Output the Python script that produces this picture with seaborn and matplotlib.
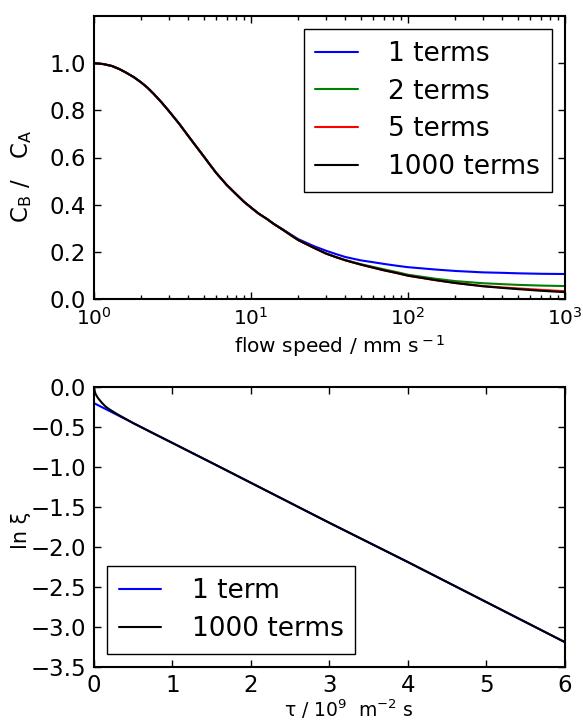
import numpy as np
import pandas as pd
import matplotlib
matplotlib.use('Agg')
import matplotlib.pyplot as plt
import seaborn as sns

# values
speed = [1, 1.15, 1.3, 1.45, 1.6, 1.8, 2, 2.2, 2.4, 2.7, 3, 3.5, 4, 4.5, 5,
         5.5, 6, 7, 8, 9, 10, 11.2, 12.6, 14, 16, 18, 20, 25, 30, 35, 40,
         50, 60, 70, 85, 100, 150, 200, 300, 400, 500, 700, 1000]
ratio_1000 = [1.0, 0.996, 0.988, 0.975, 0.960, 0.940, 0.918, 0.895, 0.870,
              0.833, 0.797, 0.742, 0.690, 0.645, 0.605, 0.568, 0.535, 0.484,
              0.446, 0.413, 0.388, 0.362, 0.340, 0.318, 0.293, 0.270, 0.250,
              0.218, 0.193, 0.177, 0.164, 0.146, 0.133, 0.122, 0.110, 0.099,
              0.080, 0.068, 0.054, 0.047, 0.042, 0.035, 0.029]
ratio_5 = [1.0, 0.996, 0.988, 0.975, 0.960, 0.940, 0.918, 0.895, 0.870,
           0.833, 0.797, 0.742, 0.690, 0.645, 0.605, 0.568, 0.535, 0.484,
           0.446, 0.413, 0.388, 0.362, 0.340, 0.318, 0.293, 0.270, 0.250,
           0.218, 0.193, 0.177, 0.164, 0.146, 0.133, 0.122, 0.110, 0.099,
           0.080, 0.068, 0.055, 0.049, 0.045, 0.039, 0.033]
ratio_2 = [1.0, 0.996, 0.988, 0.975, 0.960, 0.940, 0.918, 0.895, 0.870,
           0.833, 0.797, 0.742, 0.690, 0.645, 0.605, 0.568, 0.535, 0.484,
           0.446, 0.413, 0.388, 0.362, 0.340, 0.318, 0.293, 0.270, 0.250,
           0.218, 0.193, 0.177, 0.165, 0.148, 0.136, 0.126, 0.114, 0.103,
           0.086, 0.076, 0.067, 0.063, 0.060, 0.057, 0.055]
ratio_1 = [1.0, 0.996, 0.988, 0.975, 0.960, 0.940, 0.918, 0.895, 0.870,
           0.833, 0.797, 0.742, 0.690, 0.645, 0.605, 0.568, 0.535, 0.484,
           0.446, 0.413, 0.388, 0.362, 0.340, 0.318, 0.295, 0.273, 0.254,
           0.225, 0.205, 0.190, 0.178, 0.164, 0.156, 0.149, 0.141, 0.135,
           0.125, 0.119, 0.113, 0.111, 0.109, 0.107, 0.106]
top_labels = ['1 terms', '2 terms', '5 terms', '1000 terms']
top_colors = ['blue', 'green', 'red', 'black']

tau_1 = [0, 1, 2, 3, 4, 5, 6]
lnxi_1 = [-0.205, -0.702, -1.20, -1.70, -2.19, -2.69, -3.19]
tau_1000 = [0, 0.005, 0.02, 0.05, 0.1, 0.15, 0.2, 0.3, 0.4, 0.5, 0.6, 0.8,
            1, 1.5, 2, 3, 4, 5, 6]
lnxi_1000 = [0, -0.04, -0.09, -0.14, -0.20, -0.25, -0.285, -0.345, -0.40,
             -0.455, -0.505, -0.605, -0.703, -0.95, -1.20, -1.70, -2.19,
             -2.69, -3.19]
bottom_labels = ['1 term', '1000 terms']

sns.set_theme(style='ticks')
plt.rcParams.update({
    'font.family': ['DejaVu Sans'],
    'text.color': 'black', 'axes.labelcolor': 'black',
    'axes.linewidth': 1.5,
    'axes.edgecolor': 'black',
    'xtick.direction': 'in', 'ytick.direction': 'in',
    'xtick.top': True, 'ytick.right': True,
    'xtick.major.size': 5, 'ytick.major.size': 5,
    'xtick.minor.size': 3, 'ytick.minor.size': 3,
    'xtick.major.width': 1, 'ytick.major.width': 1,
    'xtick.labelsize': 16.5, 'ytick.labelsize': 16.5,
    'xtick.major.pad': 5.5, 'ytick.major.pad': 5.5,
    'xtick.color': 'black', 'ytick.color': 'black',
    'legend.fancybox': False, 'legend.framealpha': 1,
    'legend.edgecolor': 'black',
})

legend_kw = dict(fontsize=19, handlelength=1.6, borderaxespad=0.5,
                 labelspacing=0.44, handletextpad=1.15, borderpad=0.45)

fig = plt.figure(figsize=(5.83, 7.2), dpi=100)
ax1 = fig.add_axes([0.1612, 0.5847, 0.8078, 0.3931])
ax2 = fig.add_axes([0.1612, 0.0736, 0.8078, 0.3893])

# top panel: concentration ratio vs flow speed
series = [ratio_1, ratio_2, ratio_5, ratio_1000]
for vals, lab, col in zip(series, top_labels, top_colors):
    df = pd.DataFrame({'speed': speed, 'ratio': vals})
    sns.lineplot(data=df, x='speed', y='ratio', color=col, label=lab,
                 lw=1.5, ax=ax1)
ax1.set_xscale('log')
ax1.set_xlim(1, 1000)
ax1.set_ylim(0, 1.2)
ax1.set_yticks([0, 0.2, 0.4, 0.6, 0.8, 1.0])
ax1.set_yticklabels(['0.0', '0.2', '0.4', '0.6', '0.8', '1.0'])
ax1.tick_params(which='both', top=True, right=True)
ax1.tick_params(axis='x', labelsize=14.5)
ax1.set_xlabel(r'flow speed / mm s$^{\rm -1}$', fontsize=14.5)
ax1.xaxis.set_label_coords(0.522, -0.12)
ax1.set_ylabel(r'C$_{\rm B}$ /   C$_{\rm A}$', fontsize=16.5)
ax1.yaxis.set_label_coords(-0.127, 0.433)
ax1.legend(loc='upper right', **legend_kw)

# bottom panel: ln xi vs tau
sns.lineplot(x=tau_1, y=lnxi_1, color='blue', label=bottom_labels[0],
             lw=1.5, ax=ax2)
sns.lineplot(x=tau_1000, y=lnxi_1000, color='black', label=bottom_labels[1],
             lw=1.5, ax=ax2)
ax2.set_xlim(0, 6)
ax2.set_ylim(-3.5, 0)
yt = np.arange(-3.5, 0.01, 0.5)
ax2.set_yticks(yt)
ax2.set_yticklabels([f'{v:.1f}'.replace('-', '\u2212') for v in yt])
ax2.tick_params(axis='x', pad=5)
ax2.set_xlabel('τ / 10$^9$  m$^{-2}$ s', fontsize=13.5)
ax2.xaxis.set_label_coords(0.541, -0.109)
ax2.set_ylabel('ln ξ', fontsize=15)
ax2.yaxis.set_label_coords(-0.134, 0.486)
ax2.legend(loc='lower left', **legend_kw)

fig.savefig('out.png', dpi=100)
